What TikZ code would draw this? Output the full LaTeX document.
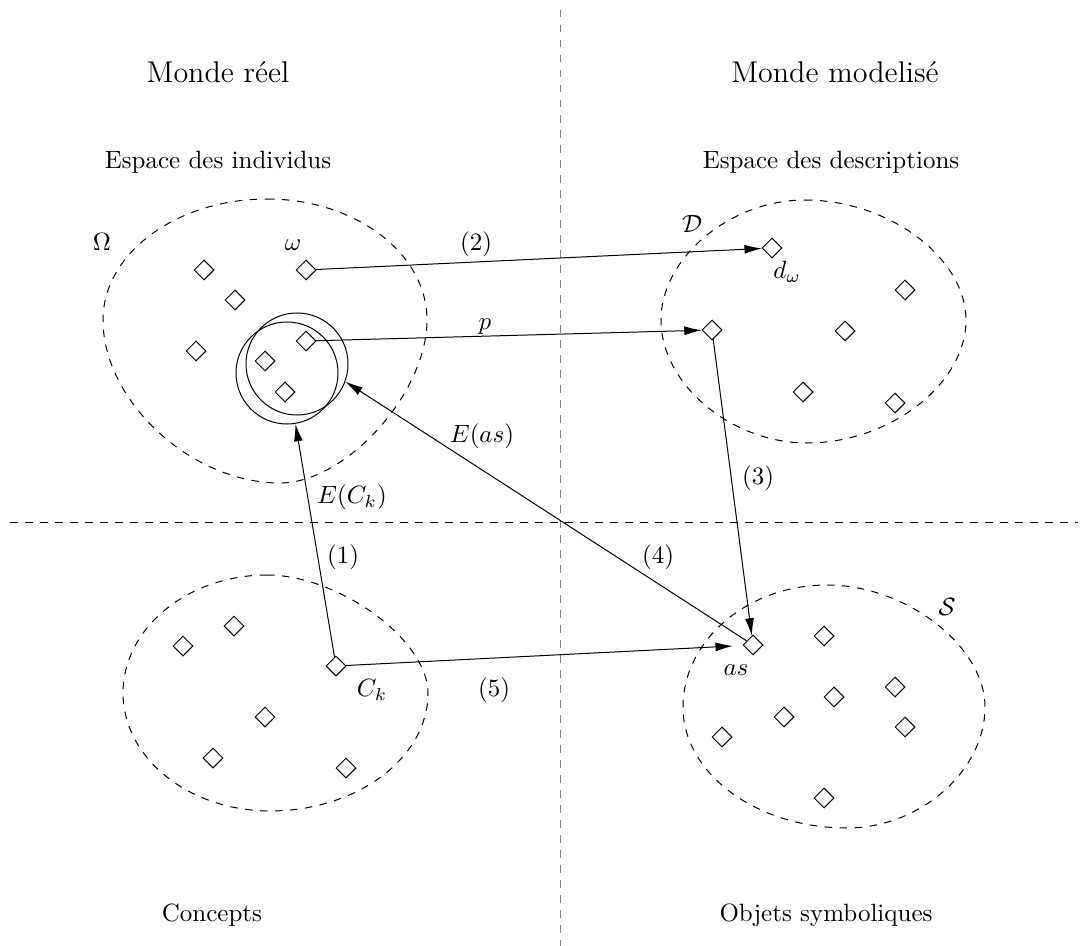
\documentclass[tikz,border=0pt]{standalone}
\usepackage{tikz}
\usetikzlibrary{arrows.meta,shapes.geometric}
\usetikzlibrary{positioning}
\tikzset{
    elem/.style={
           diamond,
           draw=black, thin,
           minimum size=8pt,
           inner sep=0pt,
           },
    ext/.style={
           circle,
           draw=black, thin,
           minimum size=40.8pt,
           inner sep=0pt,
           },
    zone/.style={
           draw=black, thin, dashed,
           },
    title/.style={
           font=\large,
           },
}

\begin{document}
\begin{tikzpicture}[x=0.4pt,y=-0.4pt,>={Latex[length=7pt,width=3.6pt]}]

 \useasboundingbox (0,0) rectangle (1081,946);

 % separators of the four quarters
 \coordinate (sep top) at (560,10);
 \coordinate (sep bottom) at (560,946);
 \coordinate (sep left) at (10,522);
 \coordinate (sep right) at (1078,522);
 \draw[dashed, gray] (sep top) -- (sep bottom);
 \draw[dashed] (sep left) -- (sep right);

 % titles of the quarters
 \node[title] (Reel) at (218,72) {Monde réel};
 \node[title] (Modele) at (835,72) {Monde modelisé};
 \node (Individus) at (218,162) {Espace des individus};
 \node (Descriptions) at (831,162) {Espace des descriptions};
 \node (Concepts) at (212,915) {Concepts};
 \node (Objets) at (826,915) {Objets symboliques};

 % the four spaces (dashed blobs)
 \draw[zone] (267,199) .. controls (355,199) and (427,253) .. (427,320)
   .. controls (427,393) and (346,483) .. (280,483)
   .. controls (191,483) and (103,401) .. (103,320)
   .. controls (103,253) and (177,199) .. cycle;
 \draw[zone] (805,200) .. controls (889,200) and (966,258) .. (966,320)
   .. controls (966,384) and (890,443) .. (807,443)
   .. controls (731,443) and (661,384) .. (661,320)
   .. controls (661,258) and (730,200) .. cycle;
 \draw[zone] (267,575) .. controls (339,575) and (428,640) .. (428,693)
   .. controls (428,758) and (357,811) .. (270,811)
   .. controls (189,811) and (123,758) .. (123,693)
   .. controls (123,628) and (188,575) .. cycle;
 \draw[zone] (827,585) .. controls (906,585) and (985,646) .. (985,707)
   .. controls (985,771) and (920,828) .. (847,828)
   .. controls (757,828) and (683,774) .. (683,707)
   .. controls (683,640) and (748,585) .. cycle;

 % individuals
 \node[elem] (ind1) at (204,270) {};
 \node[elem] (omega) at (306,270) {};
 \node[elem] (ind2) at (235,300) {};
 \node[elem] (ind3) at (196,351) {};
 \node[elem] (pw) at (306,341) {};
 \node[elem] (ind4) at (265,361) {};
 \node[elem] (ind5) at (285,392) {};

 % extensions
 \node[ext] (Ext as) at (297,364) {};
 \node[ext] (Ext Ck) at (287,373) {};

 % descriptions
 \node[elem] (dw) at (772,248) {};
 \node[elem] (dp) at (712,330) {};
 \node[elem] (desc1) at (905,290) {};
 \node[elem] (desc2) at (845,331) {};
 \node[elem] (desc3) at (803,392) {};
 \node[elem] (desc4) at (895,403) {};

 % concepts
 \node[elem] (Ck) at (336,666) {};
 \node[elem] (con1) at (234,626) {};
 \node[elem] (con2) at (183,646) {};
 \node[elem] (con3) at (265,717) {};
 \node[elem] (con4) at (213,758) {};
 \node[elem] (con5) at (346,768) {};

 % symbolic objects
 \node[elem] (as) at (753,645) {};
 \node[elem] (sym1) at (824,636) {};
 \node[elem] (sym2) at (834,697) {};
 \node[elem] (sym3) at (895,687) {};
 \node[elem] (sym4) at (784,717) {};
 \node[elem] (sym5) at (722,737) {};
 \node[elem] (sym6) at (905,727) {};
 \node[elem] (sym7) at (824,798) {};

 % names of the sets and elements
 \node (Omega) at (102,242) {$\Omega$};
 \node (omega name) at (293,245) {$\omega$};
 \node (D) at (692,224) {$\mathcal{D}$};
 \node (dw name) at (787,272) {$d_\omega$};
 \node (Ck name) at (372,690) {$C_k$};
 \node (as name) at (736,670) {$as$};
 \node (S) at (947,607) {$\mathcal{S}$};

 % the mappings
 \draw[->] (omega) -- (dw);
 \draw[->] (pw) -- (dp);
 \draw[->] (dp) -- (as);
 \draw[->] (as) -- (Ext as.-20);
 \draw[->] (Ck) -- (Ext Ck);
 \draw[->,shorten >=4pt] (Ck) -- (as);

 % labels of the mappings
 \node (l2) at (476,244) {(2)};
 \node (lp) at (485,327) {$p$};
 \node (l3) at (758,478) {(3)};
 \node (lEas) at (482,436) {$E(as)$};
 \node (l4) at (658,557) {(4)};
 \node (lECk) at (352,497) {$E(C_k)$};
 \node (l1) at (343,557) {(1)};
 \node (l5) at (494,690) {(5)};

\end{tikzpicture}
\end{document}
